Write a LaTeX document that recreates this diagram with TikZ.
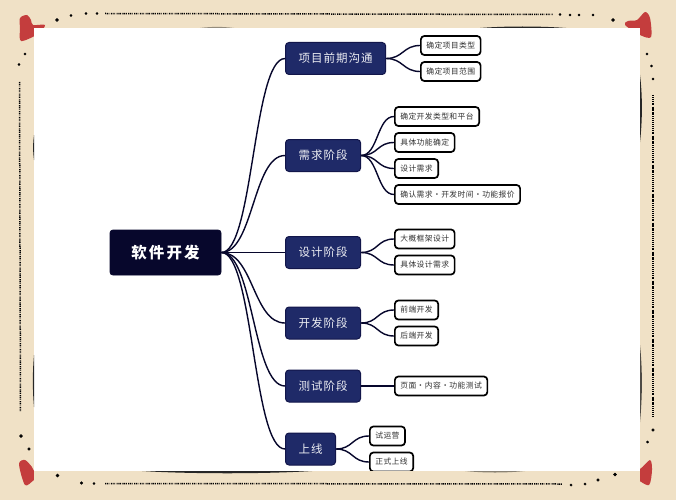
\documentclass[tikz,border=0pt]{standalone}
\usepackage{fontspec}
\newfontfamily\leaffont[LetterSpace=5]{Noto Sans CJK SC}
\newfontfamily\stagefont[LetterSpace=9]{Noto Sans CJK SC}
\newfontfamily\rootfont[LetterSpace=13]{Noto Sans CJK SC}
\definecolor{paper}{HTML}{F0E1C6}
\definecolor{navy}{HTML}{1F2A68}
\definecolor{navyline}{HTML}{12164A}
\definecolor{ink}{HTML}{07072C}
\definecolor{heartred}{HTML}{C43D3D}
\tikzset{
    rootbox/.style={draw=ink,fill=ink,text=white,rounded corners=3pt,line width=0.8pt,minimum width=111pt,minimum height=45pt,inner sep=0pt,font=\rootfont\fontsize{15.5}{18}\selectfont\bfseries},
    stagebox/.style={draw=navyline,fill=navy,text=white!92!navy,rounded corners=3.5pt,line width=1pt,anchor=west,minimum height=32pt,inner xsep=13pt,inner ysep=0pt,font=\stagefont\fontsize{11.5}{14}\selectfont},
    leafbox/.style={draw=black,fill=white,text=black!80,rounded corners=3.5pt,line width=1.7pt,anchor=west,minimum height=19pt,inner xsep=5.5pt,inner ysep=0pt,font=\leaffont\fontsize{7.8}{9}\selectfont},
    branch/.style={draw=ink,line width=1.4pt,out=0,in=180,distance=#1},
    shade/.style={fill=black!85},
    speck/.style={fill=black},
    dense/.style={draw=black,line width=1.5pt,dash pattern=on 1.1pt off 0.7pt on 1.1pt off 0.7pt on 0.8pt off 1.4pt},
    heart/.style={fill=heartred}
}
\begin{document}
\begin{tikzpicture}[x=1pt,y=-1pt]
    \useasboundingbox(0,0)rectangle(676,500);
    \fill[paper](0,0)rectangle(676,500);

    \fill[heart]plot[smooth cycle,tension=0.5]coordinates{(20,18)(27,15)(31,20)(33,25)(45,25)(38,34)(21,41)(20,28)};
    \fill[heart]plot[smooth cycle,tension=0.5]coordinates{(645,12)(650,18)(651,37)(640,35)(625,25)(628,21)(637,20)};
    \fill[heart]plot[smooth cycle,tension=0.5]coordinates{(19,464)(25,460)(32,467)(35,472)(44,473)(34,480)(25,485)};
    \fill[heart]plot[smooth cycle,tension=0.5]coordinates{(650,460)(652,470)(649,485)(638,480)(627,473)(640,469)};

    \fill[white](34,28)rectangle(640,471);

    \node[rootbox](root)at(165.5,252.5){软件开发};

    \node[stagebox](talk)at(285,58.5){项目前期沟通};
    \node[stagebox](need)at(285,155.5){需求阶段};
    \node[stagebox](design)at(285,252.5){设计阶段};
    \node[stagebox](build)at(285,323){开发阶段};
    \node[stagebox](check)at(285,386){测试阶段};
    \node[stagebox](launch)at(285,449){上线};

    \node[leafbox](talka)at(420,45.5){确定项目类型};
    \node[leafbox](talkb)at(420,71.5){确定项目范围};

    \node[leafbox](needa)at(394,116.5){确定开发类型和平台};
    \node[leafbox](needb)at(394,142.5){具体功能确定};
    \node[leafbox](needc)at(394,168.5){设计需求};
    \node[leafbox](needd)at(394,194.5){确认需求・开发时间・功能报价};

    \node[leafbox](designa)at(394,239){大概框架设计};
    \node[leafbox](designb)at(394,265){具体设计需求};

    \node[leafbox](builda)at(394,310){前端开发};
    \node[leafbox](buildb)at(394,336){后端开发};

    \node[leafbox](checka)at(394,386){页面・内容・功能测试};

    \node[leafbox](launcha)at(369,436){试运营};
    \node[leafbox](launchb)at(369,462){正式上线};

    \draw[branch=32pt](root.east)to(talk.west);
    \draw[branch=32pt](root.east)to(need.west);
    \draw[branch=32pt](root.east)to(design.west);
    \draw[branch=32pt](root.east)to(build.west);
    \draw[branch=32pt](root.east)to(check.west);
    \draw[branch=32pt](root.east)to(launch.west);

    \draw[branch=17pt](talk.east)to(talka.west);
    \draw[branch=17pt](talk.east)to(talkb.west);
    \draw[branch=17pt](need.east)to(needa.west);
    \draw[branch=17pt](need.east)to(needb.west);
    \draw[branch=17pt](need.east)to(needc.west);
    \draw[branch=17pt](need.east)to(needd.west);
    \draw[branch=17pt](design.east)to(designa.west);
    \draw[branch=17pt](design.east)to(designb.west);
    \draw[branch=17pt](build.east)to(builda.west);
    \draw[branch=17pt](build.east)to(buildb.west);
    \draw[branch=17pt](check.east)to(checka.west);
    \draw[branch=17pt](launch.east)to(launcha.west);
    \draw[branch=17pt](launch.east)to(launchb.west);

    % the paper strip cuts off the last box
    \fill[paper](34,471)rectangle(640,500);

    \fill[shade,opacity=0.45](200,28).. controls (212,26.5) and (222,26.5) ..(234,28)--cycle;
    \fill[shade](480,28).. controls (505,26) and (540,26) ..(566,28)--cycle;
    \fill[shade](34,135).. controls (32.8,145) and (32.8,150) ..(34,160)--cycle;
    \fill[shade](34,355).. controls (32.5,372) and (32.5,390) ..(34,407)--cycle;
    \fill[shade](640,75).. controls (642.5,95) and (642.5,120) ..(640,142)--cycle;
    \fill[shade,opacity=0.8](640,345).. controls (642.5,370) and (642.5,395) ..(640,422)--cycle;
    \fill[shade](142,471).. controls (190,474) and (265,474) ..(312,471)--cycle;
    \fill[shade,opacity=0.5](465,471).. controls (485,473) and (505,473) ..(525,471)--cycle;

    \draw[dense](105,13.5)--(553,14.5);
    \draw[dense](105,483.5)--(563,484);
    \draw[dense](19.5,82)--(20.5,412);
    \draw[dense](653,95)--(653,416);

    \filldraw[speck](57,20)circle(1.5pt);
    \filldraw[speck](71,15.5)circle(1.2pt);
    \filldraw[speck](86,13.5)circle(1.2pt);
    \filldraw[speck](97,13.5)circle(1pt);
    \filldraw[speck](560,14.5)circle(1pt);
    \filldraw[speck](570,15)circle(1pt);
    \filldraw[speck](579,15)circle(1pt);
    \filldraw[speck](593,15)circle(1pt);
    \filldraw[speck](613,20)circle(1.5pt);

    \filldraw[speck](25,54)circle(1.2pt);
    \filldraw[speck](19,64.5)circle(1.2pt);
    \filldraw[speck](647,54)circle(1.2pt);
    \filldraw[speck](651.5,66)circle(1.2pt);
    \filldraw[speck](653,79)circle(1pt);

    \filldraw[speck](21,436)circle(1.5pt);
    \filldraw[speck](29,449)circle(1.3pt);
    \filldraw[speck](57.5,475.5)circle(1.5pt);
    \filldraw[speck](81.5,483)circle(1.3pt);
    \filldraw[speck](94,483.5)circle(1pt);
    \filldraw[speck](571,485)circle(1.2pt);
    \filldraw[speck](585,484)circle(1.2pt);
    \filldraw[speck](598,480)circle(1.4pt);
    \filldraw[speck](615,474.5)circle(1.5pt);
    \filldraw[speck](653,430)circle(1.3pt);
    \filldraw[speck](647.5,442)circle(1.2pt);
\end{tikzpicture}
\end{document}
